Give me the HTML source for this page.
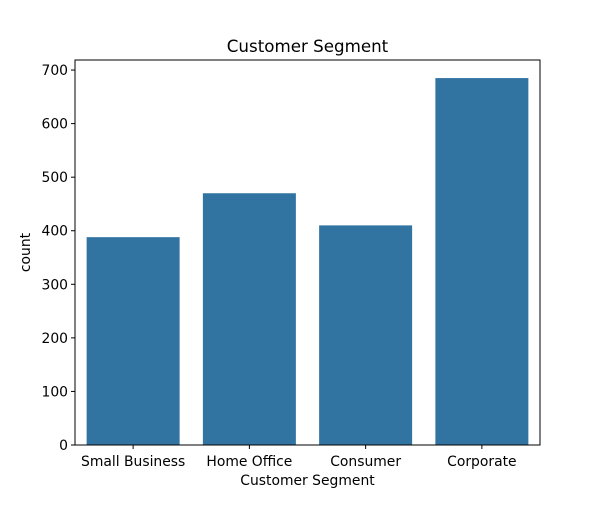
<!DOCTYPE html>
<html><head><meta charset="utf-8"><style>
body{margin:0;background:#fff;}
svg text{font-family:"DejaVu Sans","Liberation Sans",sans-serif;}
</style></head><body>
<svg id="chart" width="600" height="500" xmlns="http://www.w3.org/2000/svg">
<rect width="600" height="500" fill="#fff"/>
<text x="307.5" y="52" text-anchor="middle" font-size="16.7">Customer Segment</text>
<g id="bars"></g>
<g id="yticks"></g>
<g id="xticks"></g>
<rect x="75" y="60" width="465" height="385" fill="none" stroke="#000" stroke-width="1"/>
<text x="307.5" y="485" text-anchor="middle" font-size="13.9">Customer Segment</text>
<text transform="translate(30,252.5) rotate(-90)" text-anchor="middle" font-size="13.9">count</text>
</svg>
<script>
const categories=["Small Business","Home Office","Consumer","Corporate"];
const counts=[388,470,410,685];
const yTickValues=[0,100,200,300,400,500,600,700];
const L=75,R=540,T=60,B=445,yMax=718.75;
const ns="http://www.w3.org/2000/svg";
function y(v){return B-(v/yMax)*(B-T);}
const step=(R-L)/categories.length;
function x(i){return L+step*(i+0.5);}
const bars=document.getElementById('bars'),yt=document.getElementById('yticks'),xt=document.getElementById('xticks');
counts.forEach((v,i)=>{
  const r=document.createElementNS(ns,'rect');
  r.setAttribute('x',x(i)-step*0.4);r.setAttribute('width',step*0.8);
  r.setAttribute('y',y(v));r.setAttribute('height',B-y(v));r.setAttribute('fill','#3274a1');
  
  
  bars.appendChild(r);
});
yTickValues.forEach(v=>{
  const l=document.createElementNS(ns,'line');
  l.setAttribute('x1',L-4);l.setAttribute('x2',L);l.setAttribute('y1',y(v));l.setAttribute('y2',y(v));l.setAttribute('stroke','#000');
  
  
  yt.appendChild(l);
  const t=document.createElementNS(ns,'text');
  t.setAttribute('x',L-7);t.setAttribute('y',y(v)+5);t.setAttribute('text-anchor','end');t.setAttribute('font-size','13.9');
  t.textContent=v;
  
  
  yt.appendChild(t);
});
categories.forEach((c,i)=>{
  const l=document.createElementNS(ns,'line');
  l.setAttribute('x1',x(i));l.setAttribute('x2',x(i));l.setAttribute('y1',B);l.setAttribute('y2',B+4);l.setAttribute('stroke','#000');
  
  
  xt.appendChild(l);
  const t=document.createElementNS(ns,'text');
  t.setAttribute('x',x(i));t.setAttribute('y',466);t.setAttribute('text-anchor','middle');t.setAttribute('font-size','13.9');
  t.textContent=c;
  
  
  xt.appendChild(t);
});
</script>
</body></html>
